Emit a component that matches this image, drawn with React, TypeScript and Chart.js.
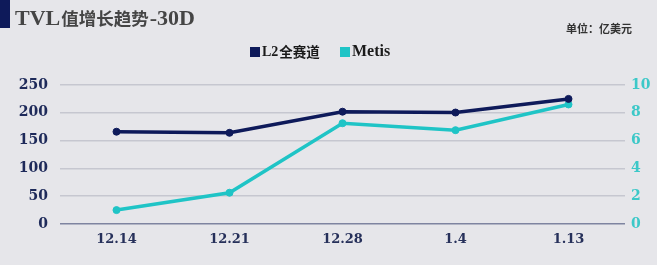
import React, { useEffect, useRef } from "react";
import { Chart, registerables } from "chart.js";

Chart.register(...registerables);

const categories = ["12.14", "12.21", "12.28", "1.4", "1.13"];
const l2Values = [166, 164, 202, 200.5, 225];
const metisValues = [1.0, 2.25, 7.25, 6.75, 8.6];
const leftTicks = [0, 50, 100, 150, 200, 250];
const rightTicks = [0, 2, 4, 6, 8, 10];
const titleLatin1 = "TVL";
const titleCjk = "值增长趋势";
const titleLatin2 = "-30D";
const unitText = "单位：亿美元";
const seriesNames = ["L2全赛道", "Metis"];

const NAVY = "#0E1A5A";
const TEAL = "#1FC4C6";
const SERIF = "'Liberation Serif', 'Noto Sans CJK SC', serif";
const DSERIF = "'DejaVu Serif', 'Noto Sans CJK SC', serif";
const CJK = "'Noto Sans CJK SC', sans-serif";

const decorPlugin = {
  id: "decor",
  beforeDraw(chart: any) {
    const ctx = chart.ctx;
    ctx.save();
    ctx.fillStyle = "#E6E6EA";
    ctx.fillRect(0, 0, chart.width, chart.height);
    ctx.fillStyle = NAVY;
    ctx.fillRect(0, 0, 10, 28);
    // title
    ctx.fillStyle = "#454545";
    ctx.textBaseline = "alphabetic";
    ctx.textAlign = "left";
    let x = 15;
    ctx.font = `bold 22px ${SERIF}`;
    ctx.fillText(titleLatin1, x, 25);
    x += ctx.measureText(titleLatin1).width + 1;
    ctx.font = `bold 17.5px ${CJK}`;
    ctx.fillText(titleCjk, x, 25);
    x += ctx.measureText(titleCjk).width + 1;
    ctx.font = `bold 22px ${SERIF}`;
    ctx.fillText(titleLatin2, x, 25);
    // unit
    ctx.textBaseline = "middle";
    ctx.font = `bold 11px ${SERIF}`;
    ctx.fillStyle = "#333333";
    ctx.fillText(unitText, 566, 30);
    // legend
    const colors = [NAVY, TEAL];
    const lx = [250, 340];
    const cy = 52;
    for (let i = 0; i < 2; i++) {
      ctx.fillStyle = colors[i];
      ctx.fillRect(lx[i], cy - 5, 10, 10);
      ctx.fillStyle = "#1A1A1A";
      let tx = lx[i] + 12;
      const name = seriesNames[i];
      const m = name.match(/^[A-Za-z0-9]+/);
      const latin = m ? m[0] : "";
      const rest = name.slice(latin.length);
      ctx.font = `bold ${rest ? 14 : 16}px ${SERIF}`;
      ctx.fillText(latin, tx, cy);
      tx += ctx.measureText(latin).width + 1;
      if (rest) {
        ctx.font = `bold 13.5px ${CJK}`;
        ctx.fillText(rest, tx, cy);
      }
    }
    ctx.restore();
  },
};

export default function App() {
  const ref = useRef<HTMLCanvasElement | null>(null);
  useEffect(() => {
    document.body.style.margin = "0";
    const chart = new Chart(ref.current as HTMLCanvasElement, {
      type: "line",
      data: {
        labels: categories,
        datasets: [
          {
            label: seriesNames[0],
            data: l2Values,
            borderColor: NAVY,
            backgroundColor: NAVY,
            pointBackgroundColor: NAVY,
            pointBorderColor: NAVY,
            borderWidth: 3.5,
            pointRadius: 3.5,
            pointBorderWidth: 1,
            yAxisID: "y",
          },
          {
            label: seriesNames[1],
            data: metisValues,
            borderColor: TEAL,
            backgroundColor: TEAL,
            pointBackgroundColor: TEAL,
            pointBorderColor: TEAL,
            borderWidth: 3.5,
            pointRadius: 3.5,
            pointBorderWidth: 1,
            yAxisID: "y1",
          },
        ],
      },
      plugins: [decorPlugin],
      options: {
        animation: false,
        responsive: false,
        maintainAspectRatio: false,
        layout: { padding: { top: 85, left: 0, right: 0, bottom: 0 } },
        plugins: {
          legend: { display: false },
          tooltip: { enabled: false },
        },
        scales: {
          x: {
            offset: true,
            grid: { display: false, drawTicks: false },
            border: { display: false },
            ticks: {
              padding: 8,
              color: "#26305A",
              font: { family: DSERIF, size: 13, weight: "bold" },
            },
            afterFit(scale: any) {
              scale.height = 41;
            },
          },
          y: {
            position: "left",
            min: 0,
            max: 250,
            afterBuildTicks(scale: any) {
              scale.ticks = leftTicks.map((v) => ({ value: v }));
            },
            grid: {
              drawTicks: false,
              lineWidth: 1.5,
              color: (c: any) => (c.tick && c.tick.value === 0 ? "#7E84A0" : "#C6C7D0"),
            },
            border: { display: false },
            ticks: {
              padding: 12,
              color: "#1E2A5A",
              font: { family: DSERIF, size: 14, weight: "bold" },
            },
            afterFit(scale: any) {
              scale.width = 60;
            },
          },
          y1: {
            position: "right",
            min: 0,
            max: 10,
            afterBuildTicks(scale: any) {
              scale.ticks = rightTicks.map((v) => ({ value: v }));
            },
            grid: { display: false, drawTicks: false },
            border: { display: false },
            ticks: {
              padding: 6,
              color: "#3CC8C8",
              font: { family: DSERIF, size: 14, weight: "bold" },
            },
            afterFit(scale: any) {
              scale.width = 32;
            },
          },
        },
      },
    } as any);
    return () => chart.destroy();
  }, []);
  return (
    <div style={{ position: "absolute", left: 0, top: 0, width: 657, height: 265 }}>
      <canvas ref={ref} width={657} height={265} style={{ width: 657, height: 265 }} />
    </div>
  );
}
